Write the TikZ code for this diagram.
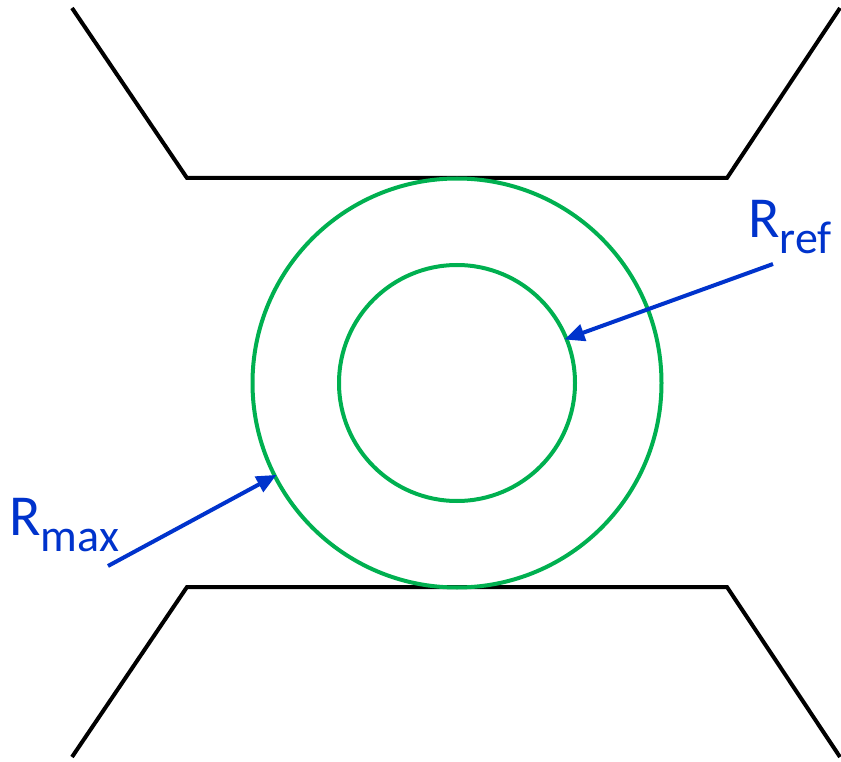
\documentclass[tikz,border=0pt]{standalone}
\usepackage{fontspec}
\setmainfont{Carlito}
\usetikzlibrary{arrows.meta}
\definecolor{ringgreen}{RGB}{0,176,80}
\definecolor{lblblue}{RGB}{0,51,204}
\tikzset{
  wall/.style={line width=4pt, black, line join=miter},
  ring/.style={circle, draw=ringgreen, line width=4pt, inner sep=0pt, outer sep=0pt},
  pointer/.style={line width=4pt, lblblue, -{Triangle[length=20pt,width=17pt]}, shorten >=-2pt},
  lbl/.style={text=lblblue, inner sep=0pt, anchor=base west, font=\fontsize{58}{58}\selectfont}
}
\newcommand{\lsub}[1]{\raisebox{-16pt}{\fontsize{46}{46}\selectfont #1}}
\begin{document}
\begin{tikzpicture}[x=1pt,y=-1pt]
\useasboundingbox (0,0) rectangle (841,762);
% walls
\draw[wall] (72,8) -- (187,178) -- (727,178) -- (840,8);
\draw[wall] (72,757) -- (187,587) -- (727,587) -- (840,757);
% rings
\node[ring, minimum size=409pt] (outer) at (457,383) {};
\node[ring, minimum size=236pt] (inner) at (457,383) {};
% labels
\node[lbl] (rref) at (748,238) {R\lsub{ref}};
\node[lbl] (rmax) at (9,535) {R\lsub{max}};
\coordinate (rrefstart) at (773,264);
\coordinate (rmaxstart) at (108,566);
\draw[pointer] (rrefstart) -- (inner.22);
\draw[pointer] (rmaxstart) -- (outer.207);
\end{tikzpicture}
\end{document}
